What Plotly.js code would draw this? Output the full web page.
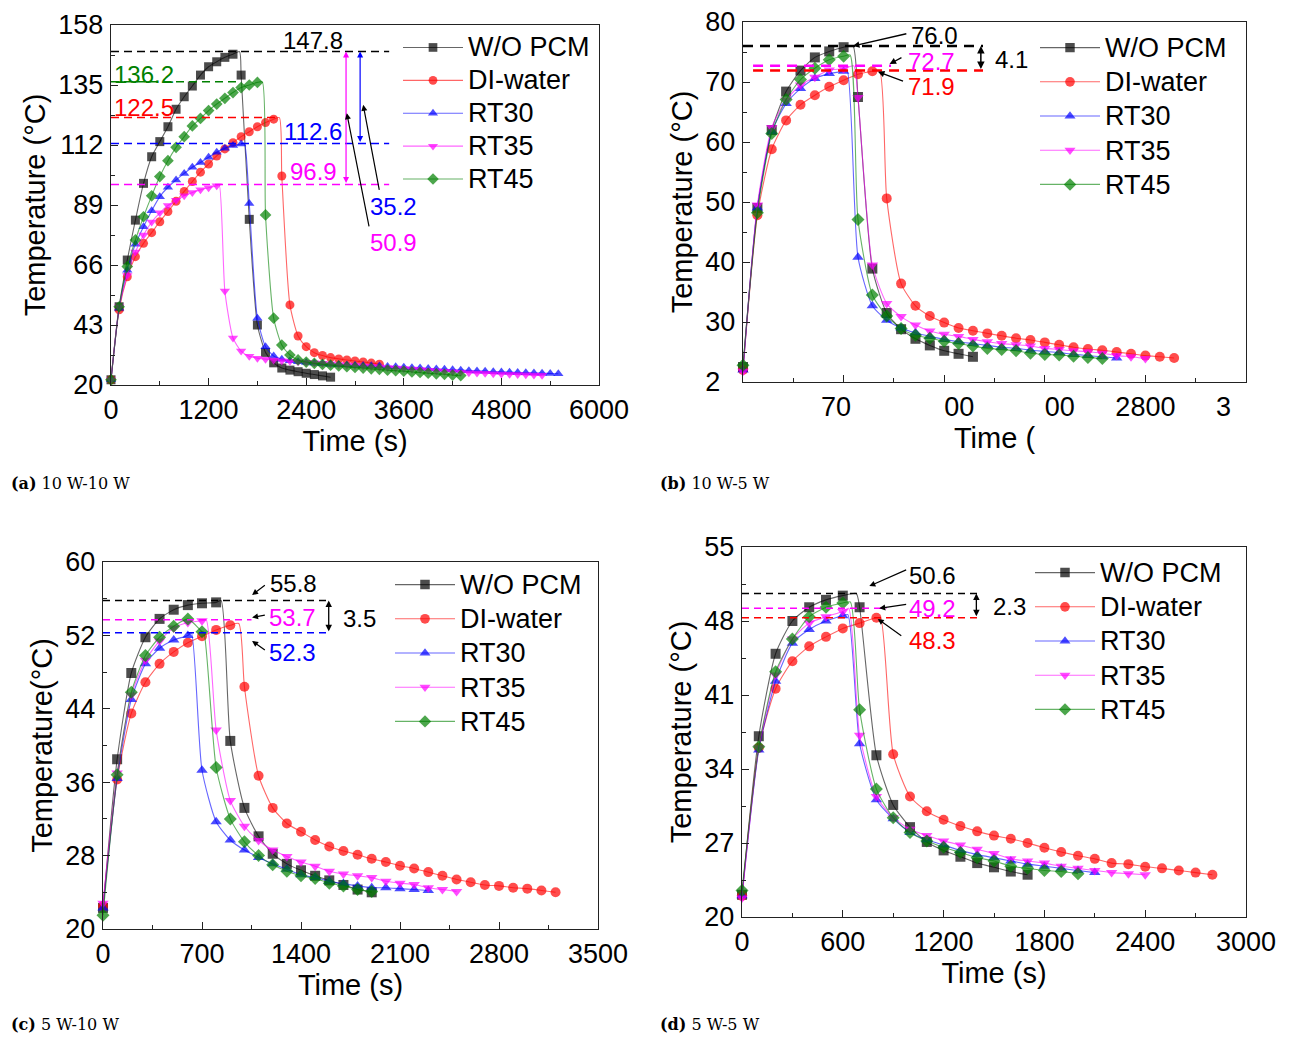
<!DOCTYPE html>
<html><head><meta charset="utf-8">
<script src="https://cdn.plot.ly/plotly-3.0.1.min.js"></script>
<style>html,body{margin:0;padding:0;background:#fff;}#chart{width:1291px;height:1038px;}</style>
</head><body><div id="chart"></div>
<script>
// ---------- common ----------
const seriesNames = ['W/O PCM', 'DI-water', 'RT30', 'RT35', 'RT45'];
const seriesColors = ['#000000', '#ff0000', '#0000ff', '#ff00ff', '#008000'];
const lineColors = ['rgba(0,0,0,0.6)', 'rgba(255,0,0,0.6)', 'rgba(0,0,255,0.6)', 'rgba(255,0,255,0.6)', 'rgba(0,128,0,0.6)'];
const seriesSymbols = ['square', 'circle', 'triangle-up', 'triangle-down', 'diamond'];

// ---------- panel (a) 10 W-10 W ----------
const timeA = [0,100,200,300,400,500,600,700,800,900,1000,1100,1200,1300,1400,1500,1600,1700,1800,1900,2000,2100,2200,2300,2400,2500,2600,2700,2800,2900,3000,3100,3200,3300,3400,3500,3600,3700,3800,3900,4000,4100,4200,4300,4400,4500,4600,4700,4800,4900,5000,5100,5200,5300,5400,5500];
const womA  = [22,50,67.9,83.2,97.3,107.5,113.3,119,125.7,130.5,134.6,138.8,142,143.9,145.6,146.8,138.8,83.5,43,32.5,28.5,26.5,25.7,25.1,24.5,24,23.5,23];
const diwA  = [22,48.8,61.5,69.2,74.3,78.4,82.6,86.5,90.4,94.2,98,101.6,104.7,107.8,110.5,112.9,115.2,117.1,119,120.6,121.9,100.1,50.7,38.8,34.7,32.4,31.3,30.5,30,29.6,29.2,28.8,28.4,28];
const rt30A = [22,49.4,64,74,80.7,86.8,92.2,95.8,98.6,101.1,103.5,105.3,107.3,109.2,110.8,111.8,112.4,89.6,45.6,34.7,31.1,29.9,29.3,28.9,28.6,28.3,28.1,27.9,27.8,27.7,27.6,27.5,27.4,27.3,27.1,27,26.8,26.6,26.5,26.3,26.1,26,25.8,25.7,25.5,25.4,25.3,25.1,25,24.9,24.8,24.7,24.6,24.5,24.4,24.3];
const rt35A = [22,50,62,71,77.5,82.5,86,88.8,90.8,92.5,93.8,94.8,95.6,96.4,56,38,33,31,30.3,29.9,29.6,29.3,29.1,28.9,28.7,28.5,28.3,28.1,27.9,27.7,27.5,27.3,27.1,26.9,26.7,26.5,26.3,26.1,25.9,25.7,25.5,25.3,25.1,24.9,24.7,24.6,24.5,24.3,24.2,24.1,24,23.9,23.8,23.7];
const rt45A = [22,50,65.4,75.6,84.5,92.5,99.9,106,111.1,115.2,119.3,122.2,125.2,127.7,129.9,132.1,134,135,136,85.2,45.6,35.3,31.5,29.6,28.8,28.3,27.9,27.6,27.3,27,26.7,26.5,26.2,26,25.7,25.5,25.3,25,24.8,24.5,24.3,24.1,23.8,23.6];
const cornerTimeA = [1580, 2070, 1640, 1330, 1860];
const peakLabelsA = [147.8, 122.5, 112.6, 96.9, 136.2];
const diffLabelsA = [35.2, 50.9];

// ---------- panel (b) 10 W-5 W ----------
const timeB = [0,100,200,300,400,500,600,700,800,900,1000,1100,1200,1300,1400,1500,1600,1700,1800,1900,2000,2100,2200,2300,2400,2500,2600,2700,2800,2900,3000];
const womB  = [22.5,49,62,68.4,71.9,74.1,75.1,75.8,67.5,38.9,31.5,28.8,27.2,26.1,25.2,24.7,24.2];
const diwB  = [22,47.8,58.8,63.6,66.2,67.8,69.2,70.3,71.3,71.8,50.6,36.4,32.7,31,29.9,29,28.55,28.1,27.7,27.3,27,26.6,26.2,25.8,25.5,25.3,25,24.7,24.4,24.2,24];
const rt30B = [22,49,61.7,66.4,68.9,70.6,71.4,71.8,40.8,32.7,30.3,29,28.2,27.6,27.1,26.7,26.4,26.1,25.8,25.6,25.3,25.1,24.9,24.6,24.4,24.2,24];
const rt35B = [21.8,49.5,62.4,67,69.5,70.8,72,72.2,67.4,39.5,33.1,30.9,29.5,28.5,27.95,27.6,27.1,26.7,26.4,26.2,26,25.6,25.4,25.2,25.05,24.8,24.4,24.2,23.9];
const rt45B = [22.8,48.2,61.4,67.1,70.4,72.3,73.7,74.3,47.1,34.5,31,28.9,27.8,27.3,26.8,26.4,26,25.6,25.4,25.2,24.8,24.6,24.5,24.3,24.1,23.9];
const cornerTimeB = [765, 950, 725, 770, 745];
const cornerTempB = [76.0, 71.9, 71.9, 72.7, 74.5];
const peakLabelsB = [76.0, 72.7, 71.9];
const diffLabelB = 4.1;
const xTickValsB = [0, 700, 1400, 2100, 2800, 3500];
const xTickTextB = ['', '70\u2007', '\u2007\u200700', '\u2007\u200700', '2800', '3\u2007\u2007\u2007'];
const yTickValsB = [20, 30, 40, 50, 60, 70, 80];
const yTickTextB = ['2\u2007', '30', '40', '50', '60', '70', '80'];

// ---------- panel (c) 5 W-10 W ----------
const timeC = [0,100,200,300,400,500,600,700,800,900,1000,1100,1200,1300,1400,1500,1600,1700,1800,1900,2000,2100,2200,2300,2400,2500,2600,2700,2800,2900,3000,3100,3200];
const womC  = [22.3,38.5,47.9,51.8,53.8,54.8,55.3,55.5,55.6,40.5,33.2,30.1,28.2,27.1,26.4,25.8,25.3,24.8,24.3,24];
const diwC  = [22.5,36.3,43.5,46.9,48.9,50.2,51.2,51.9,52.6,53.1,46.4,36.7,33.2,31.5,30.6,29.7,29,28.5,28.1,27.65,27.3,26.9,26.6,26.2,25.8,25.4,25.1,24.8,24.7,24.5,24.4,24.2,24];
const rt30C = [22.3,36.4,45,48.9,50.6,51.5,52,37.3,31.7,29.7,28.6,27.8,27.1,26.5,25.9,25.6,25.2,24.95,24.7,24.5,24.5,24.4,24.3,24.2];
const rt35C = [22.8,37,45.5,49.3,51.4,52.8,53.4,53.6,41.7,34,31.2,29.65,28.6,27.9,27.3,26.85,26.3,26,25.8,25.6,25.2,25,24.85,24.5,24.3,24.1];
const rt45C = [21.5,36.8,45.8,49.8,51.8,53,53.8,52.4,37.6,32,29.5,28,27,26.3,25.8,25.5,25,24.7,24.3,24.1];
const cornerTimeC = [835, 960, 625, 730, 715];
const cornerTempC = [55.8, 53.3, 52.3, 53.7, 52.2];
const peakLabelsC = [55.8, 53.7, 52.3];
const diffLabelC = 3.5;

// ---------- panel (d) 5 W-5 W ----------
const timeD = [0,100,200,300,400,500,600,700,800,900,1000,1100,1200,1300,1400,1500,1600,1700,1800,1900,2000,2100,2200,2300,2400,2500,2600,2700,2800];
const womD  = [22.1,37.1,44.9,48,49.3,50,50.4,49.3,35.3,30.6,28.5,27.1,26.3,25.7,25.1,24.7,24.3,24];
const diwD  = [22,36,41.6,44.2,45.6,46.5,47.3,47.8,48.3,35.4,31.4,30,29.2,28.6,28.1,27.7,27.4,27,26.55,26.15,25.8,25.5,25.1,25,24.75,24.6,24.4,24.2,24];
const rt30D = [22,35.8,42.3,45.9,47.2,48,48.5,36.4,31.1,29.3,28,27.3,26.8,26.3,25.9,25.6,25.3,25,24.8,24.6,24.4,24.2];
const rt35D = [21.8,36,42.9,46.3,47.8,48.4,48.9,37.2,31.4,29.4,28.3,27.7,27.2,26.8,26.4,26,25.5,25.3,25.1,24.8,24.6,24.4,24.2,24.1,24];
const rt45D = [22.5,36.1,43.2,46.3,48.4,49.3,49.7,39.6,32.1,29.4,28,27.2,26.6,26.1,25.6,25.3,24.8,24.6,24.4,24.3,24.1];
const cornerTimeD = [680, 825, 630, 635, 645];
const cornerTempD = [50.6, 48.3, 48.6, 49.2, 49.8];
const peakLabelsD = [50.6, 49.2, 48.3];
const diffLabelD = 2.3;

// ---------- build ----------
function buildSeries(time, temps, cT, cV) {
  const x = [], y = [], s = [];
  for (let i = 0; i < temps.length; i++) {
    x.push(time[i]); y.push(temps[i]); s.push(1);
    if (cT != null && time[i] < cT && (i + 1 >= temps.length || time[i + 1] > cT)) {
      x.push(cT); y.push(cV); s.push(0);
    }
  }
  return {x, y, s};
}

const cornerTempA = [peakLabelsA[0], peakLabelsA[1], peakLabelsA[2], peakLabelsA[3], peakLabelsA[4]];

const panels = [
  {xa: 'x',  ya: 'y',  lg: 'legend',  time: timeA, temps: [womA, diwA, rt30A, rt35A, rt45A], cT: cornerTimeA, cV: cornerTempA, ms: 9},
  {xa: 'x2', ya: 'y2', lg: 'legend2', time: timeB, temps: [womB, diwB, rt30B, rt35B, rt45B], cT: cornerTimeB, cV: cornerTempB, ms: 10},
  {xa: 'x3', ya: 'y3', lg: 'legend3', time: timeC, temps: [womC, diwC, rt30C, rt35C, rt45C], cT: cornerTimeC, cV: cornerTempC, ms: 10},
  {xa: 'x4', ya: 'y4', lg: 'legend4', time: timeD, temps: [womD, diwD, rt30D, rt35D, rt45D], cT: cornerTimeD, cV: cornerTempD, ms: 10}
];

const traces = [];
panels.forEach(p => {
  p.temps.forEach((arr, si) => {
    const b = buildSeries(p.time, arr, p.cT[si], p.cV[si]);
    traces.push({
      type: 'scatter', mode: 'lines+markers', x: b.x, y: b.y,
      xaxis: p.xa, yaxis: p.ya,
      name: '<span style="font-size:27px">' + seriesNames[si] + '</span>', legend: p.lg,
      line: {color: lineColors[si], width: 1.1, shape: 'spline', smoothing: 0.6},
      marker: {symbol: seriesSymbols[si], color: seriesColors[si], size: b.s.map(v => v * p.ms), line: {width: 0}},
      cliponaxis: false
    });
  });
});

const FONT = 'Liberation Sans, Arial, sans-serif';
function axis(domain, range, dtick, minorDtick, tick0, anchor, title, isX, extra) {
  return Object.assign({
    domain: domain, range: range, anchor: anchor, tick0: tick0, dtick: dtick,
    showline: true, mirror: true, linecolor: '#222', linewidth: 1.4,
    ticks: 'inside', ticklen: 7, tickwidth: 1.3, tickcolor: '#222',
    showgrid: false, zeroline: false, ticklabelstandoff: isX ? 0 : 1,
    tickfont: {family: FONT, size: 27, color: '#000'},
    minor: {ticks: 'inside', ticklen: 4, tickwidth: 1.3, tickcolor: '#222', dtick: minorDtick, tick0: tick0, showgrid: false},
    title: {text: title, font: {family: FONT, size: 29, color: '#000'}, standoff: isX ? 0 : 4}
  }, extra || {});
}

const W = 1291, H = 1038;
const px = v => v / W, py = v => 1 - v / H;

const layout = {
  width: W, height: H, margin: {l: 0, r: 0, t: 0, b: 0},
  paper_bgcolor: '#fff', plot_bgcolor: 'rgba(0,0,0,0)', showlegend: true,
  xaxis:  axis([px(111), px(599)], [0, 6000], 1200, 600, 0, 'y', 'Time (s)', true),
  yaxis:  axis([py(385), py(25)], [20, 158], 23, 11.5, 20, 'x', 'Temperature (°C)', false),
  xaxis2: axis([px(743), px(1246)], [0, 3500], 700, 350, 0, 'y2', 'Time (', true, {tickmode: 'array', tickvals: xTickValsB, ticktext: xTickTextB}),
  yaxis2: axis([py(382), py(22)], [20, 80], 10, 5, 20, 'x2', 'Temperature (°C)', false, {tickmode: 'array', tickvals: yTickValsB, ticktext: yTickTextB}),
  xaxis3: axis([px(103), px(598)], [0, 3500], 700, 350, 0, 'y3', 'Time (s)', true),
  yaxis3: axis([py(929), py(562)], [20, 60], 8, 4, 20, 'x3', 'Temperature(°C)', false),
  xaxis4: axis([px(742), px(1246)], [0, 3000], 600, 300, 0, 'y4', 'Time (s)', true),
  yaxis4: axis([py(917), py(547)], [20, 55], 7, 3.5, 20, 'x4', 'Temperature (°C)', false),
  shapes: [], annotations: []
};

function legendAt(x, y, fs) {
  return {x: px(x), y: py(y), xanchor: 'left', yanchor: 'top', bgcolor: 'rgba(0,0,0,0)', borderwidth: 0,
    font: {family: FONT, size: fs, color: '#000'}, itemwidth: 60, tracegroupgap: 0};
}
layout.legend  = legendAt(398, 26, 23);
layout.legend2 = legendAt(1035, 25.5, 24);
layout.legend3 = legendAt(390, 562.5, 24);
layout.legend4 = legendAt(1030, 550.5, 24);

const NUMFONT = s => ({family: FONT, size: 24, color: s});
function dashLine(xr, yr, x0, x1, v, color, width, dash) {
  layout.shapes.push({type: 'line', xref: xr, yref: yr, x0: x0, x1: x1, y0: v, y1: v, line: {color: color, width: width, dash: dash}});
}
function label(xr, yr, x, y, txt, color) {
  layout.annotations.push({xref: xr, yref: yr, x: x, y: y, text: txt, showarrow: false, xanchor: 'center', yanchor: 'middle', font: NUMFONT(color)});
}
function arrow(xr, yr, hx, hy, tx, ty, color, both, width) {
  layout.annotations.push({xref: xr, yref: yr, axref: xr, ayref: yr, x: hx, y: hy, ax: tx, ay: ty, text: '', showarrow: true,
    arrowhead: 2, arrowsize: 1, arrowwidth: width || 1.2, arrowcolor: color, standoff: 0, startstandoff: 0,
    arrowside: both ? 'end+start' : 'end'});
}

// panel (a) annotations
const dA = '8px,5px';
dashLine('x', 'y', 0, 3420, peakLabelsA[0], '#000', 1.5, dA);
dashLine('x', 'y', 0, 1600, peakLabelsA[4], '#008000', 1.5, dA);
dashLine('x', 'y', 0, 2050, peakLabelsA[1], '#ff0000', 1.5, dA);
dashLine('x', 'y', 0, 3420, peakLabelsA[2], '#0000ff', 1.5, dA);
dashLine('x', 'y', 0, 3420, peakLabelsA[3], '#ff00ff', 1.5, dA);
label('x', 'y', 2485, 151.9, peakLabelsA[0].toFixed(1), '#000');
label('x', 'y', 406, 139.2, peakLabelsA[4].toFixed(1), '#008000');
label('x', 'y', 406, 126.2, peakLabelsA[1].toFixed(1), '#ff0000');
label('x', 'y', 2485, 117.0, peakLabelsA[2].toFixed(1), '#0000ff');
label('x', 'y', 2485, 101.7, peakLabelsA[3].toFixed(1), '#ff00ff');
label('x', 'y', 3469, 88.6, diffLabelsA[0].toFixed(1), '#0000ff');
label('x', 'y', 3469, 74.8, diffLabelsA[1].toFixed(1), '#ff00ff');
arrow('x', 'y', 2890, peakLabelsA[0], 2890, peakLabelsA[3], '#ff00ff', true, 1.2);
arrow('x', 'y', 3063, peakLabelsA[0], 3063, peakLabelsA[2], '#0000ff', true, 1.2);
arrow('x', 'y', 2899, 124.2, 3176, 80.2, '#000', false, 1.2);
arrow('x', 'y', 3101, 127.4, 3302, 94.2, '#000', false, 1.2);

// panel (b)
const dB = '10px,7px';
dashLine('x2', 'y2', 0, 1670, peakLabelsB[0], '#000', 2.5, dB);
dashLine('x2', 'y2', 70, 1030, peakLabelsB[1], '#ff00ff', 2.5, dB);
dashLine('x2', 'y2', 70, 1670, peakLabelsB[2], '#ff0000', 2.5, dB);
label('x2', 'y2', 1335, 77.7, peakLabelsB[0].toFixed(1), '#000');
label('x2', 'y2', 1314, 73.4, peakLabelsB[1].toFixed(1), '#ff00ff');
label('x2', 'y2', 1314, 69.2, peakLabelsB[2].toFixed(1), '#ff0000');
label('x2', 'y2', 1870, 73.8, diffLabelB.toFixed(1), '#000');
arrow('x2', 'y2', 1655, peakLabelsB[0], 1655, peakLabelsB[2], '#000', true, 1.5);
arrow('x2', 'y2', 765, 76.0, 1147, 78.1, '#000', false, 1.3);
arrow('x2', 'y2', 1020, 73.0, 1113, 74.2, '#000', false, 1.3);
arrow('x2', 'y2', 939, 71.7, 1124, 70.05, '#000', false, 1.3);

// panel (c)
const dC = '7px,5px';
dashLine('x3', 'y3', 0, 1612, peakLabelsC[0], '#000', 1.5, dC);
dashLine('x3', 'y3', 0, 1050, peakLabelsC[1], '#ff00ff', 1.5, dC);
dashLine('x3', 'y3', 0, 1612, peakLabelsC[2], '#0000ff', 1.5, dC);
label('x3', 'y3', 1344, 57.7, peakLabelsC[0].toFixed(1), '#000');
label('x3', 'y3', 1337, 53.9, peakLabelsC[1].toFixed(1), '#ff00ff');
label('x3', 'y3', 1337, 50.1, peakLabelsC[2].toFixed(1), '#0000ff');
label('x3', 'y3', 1817, 53.8, diffLabelC.toFixed(1), '#000');
arrow('x3', 'y3', 1596, peakLabelsC[0], 1596, peakLabelsC[2], '#000', true, 1.3);
arrow('x3', 'y3', 1054, 56.4, 1155, 57.6, '#000', false, 1.2);
arrow('x3', 'y3', 1054, 53.95, 1155, 54.25, '#000', false, 1.2);
arrow('x3', 'y3', 1054, 51.4, 1155, 50.3, '#000', false, 1.2);

// panel (d)
const dD = '7px,5px';
dashLine('x4', 'y4', 0, 1410, peakLabelsD[0], '#000', 1.5, dD);
dashLine('x4', 'y4', 0, 860, peakLabelsD[1], '#ff00ff', 1.5, dD);
dashLine('x4', 'y4', 0, 1410, peakLabelsD[2], '#ff0000', 1.5, dD);
label('x4', 'y4', 1131, 52.3, peakLabelsD[0].toFixed(1), '#000');
label('x4', 'y4', 1131, 49.2, peakLabelsD[1].toFixed(1), '#ff00ff');
label('x4', 'y4', 1131, 46.2, peakLabelsD[2].toFixed(1), '#ff0000');
label('x4', 'y4', 1595, 49.4, diffLabelD.toFixed(1), '#000');
arrow('x4', 'y4', 1395, peakLabelsD[0], 1395, peakLabelsD[2], '#000', true, 1.3);
arrow('x4', 'y4', 758, 51.3, 986, 52.9, '#000', false, 1.2);
arrow('x4', 'y4', 817, 49.2, 986, 49.6, '#000', false, 1.2);
arrow('x4', 'y4', 808, 48.2, 957, 46.5, '#000', false, 1.2);

// captions
const captions = [['(a)', ' 10 W-10 W', 9, 483], ['(b)', ' 10 W-5 W', 658, 483], ['(c)', ' 5 W-10 W', 9, 1024], ['(d)', ' 5 W-5 W', 658, 1024]];
captions.forEach(c => {
  layout.annotations.push({xref: 'paper', yref: 'paper', x: px(c[2]), y: py(c[3]), xanchor: 'left', yanchor: 'middle',
    text: '<b>' + c[0] + '</b>' + c[1], showarrow: false, font: {family: 'DejaVu Serif, serif', size: 16, color: '#000'}});
});

Plotly.newPlot('chart', traces, layout, {displayModeBar: false, responsive: false});
</script>
</body></html>
